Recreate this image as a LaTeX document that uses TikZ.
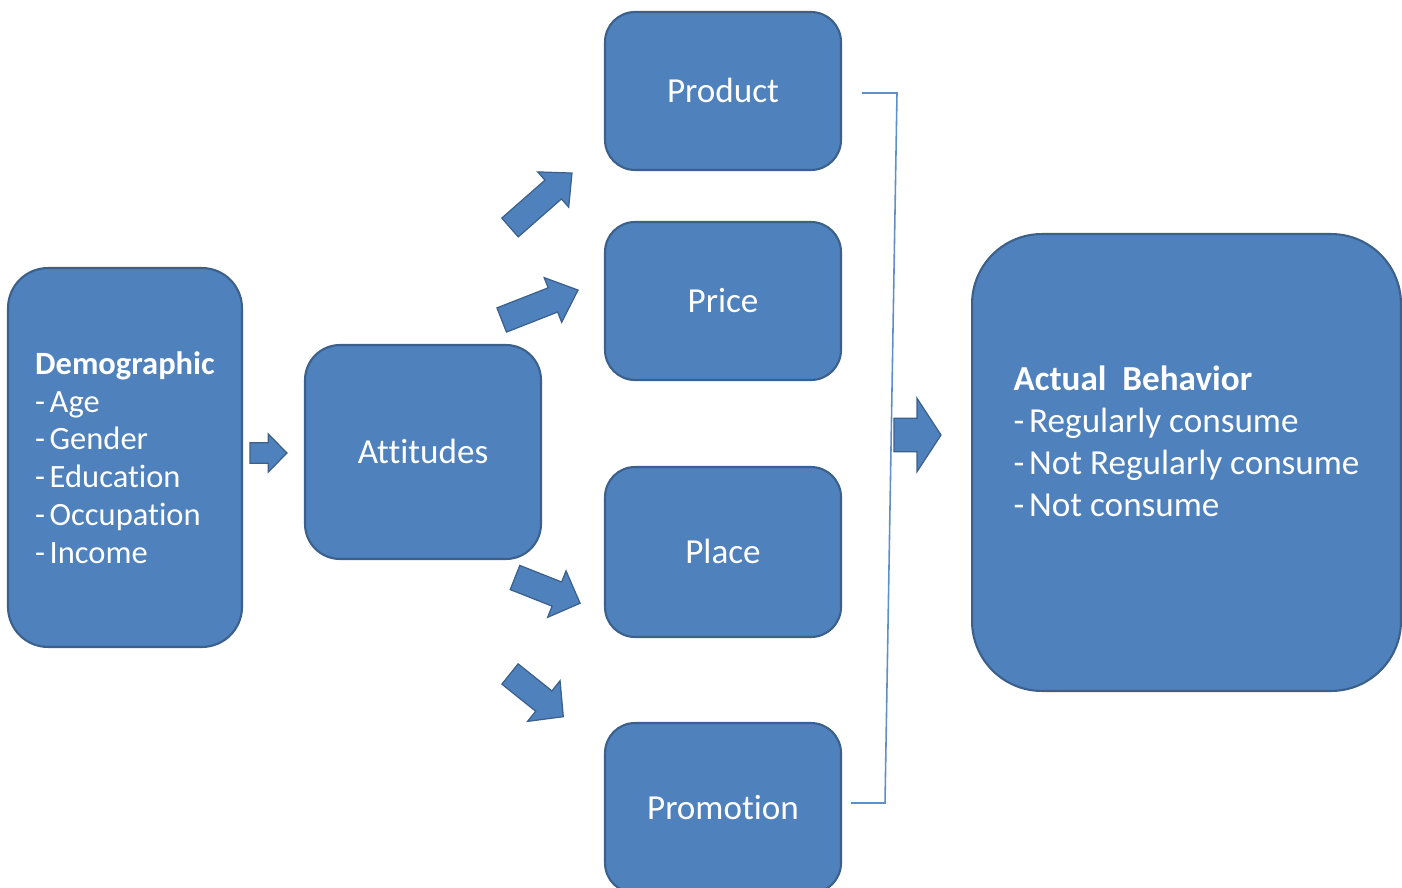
\documentclass[tikz,border=0pt]{standalone}
\usepackage{fontspec}
\setmainfont[Ligatures={NoCommon}]{Carlito}
\definecolor{boxfill}{RGB}{79,129,189}
\definecolor{boxline}{RGB}{60,96,140}
\definecolor{linkline}{RGB}{95,143,200}
\newcommand{\dashitem}[1]{-\hspace{0.14em}#1}
\begin{document}
\begin{tikzpicture}[x=0.02cm,y=-0.02cm,
  box/.style={rectangle, draw=boxline, fill=boxfill, line width=1.2pt,
    text=white, inner sep=0pt, outer sep=0pt},
  onelabel/.style={font=\fontsize{20}{24}\selectfont, text height=12.9pt, text depth=0pt},
  arrowshape/.style={draw=boxline, fill=boxfill, line width=0.7pt, line join=miter},
  bracket/.style={draw=linkline, line width=0.9pt},
  pics/blockarrow/.style n args={4}{code={
    % #1 total length, #2 shaft half width, #3 head half width, #4 head length
    \path[arrowshape] (0,-#2) -- ({#1-#4},-#2) -- ({#1-#4},-#3) -- (#1,0)
      -- ({#1-#4},#3) -- ({#1-#4},#2) -- (0,#2) -- cycle;
  }}]
\useasboundingbox (0,0) rectangle (1402,888);
\clip (0,0) rectangle (1402,888);

% left column
\node[box, rounded corners=0.8cm, minimum width=4.68cm, minimum height=7.58cm,
  align=left, font=\fontsize{18.5}{21.5}\selectfont] (demo) at (125,457.5)
  {{\bfseries Demographic}\\\dashitem{Age}\\\dashitem{Gender}\\\dashitem{Education}\\\dashitem{Occupation}\\\dashitem{Income}};

\node[box, onelabel, rounded corners=0.7cm, minimum width=4.72cm, minimum height=4.28cm]
  (att) at (423,452) {Attitudes};

% marketing mix
\node[box, onelabel, rounded corners=0.6cm, minimum width=4.72cm, minimum height=3.16cm]
  (product) at (723,91) {Product};
\node[box, onelabel, rounded corners=0.6cm, minimum width=4.72cm, minimum height=3.16cm]
  (price) at (723,301) {Price};
\node[box, onelabel, rounded corners=0.6cm, minimum width=4.72cm, minimum height=3.4cm]
  (place) at (723,552) {Place};
\node[box, onelabel, rounded corners=0.6cm, minimum width=4.72cm, minimum height=3.4cm]
  (promo) at (723,808) {Promotion};

% outcome
\node[box, rounded corners=1.4cm, minimum width=8.58cm, minimum height=9.14cm,
  align=left, font=\fontsize{20}{23.9}\selectfont] (actual) at (1186.5,462.5)
  {{\bfseries Actual\ \ Behavior}\\\dashitem{Regularly consume}\\\dashitem{Not Regularly consume}\\\dashitem{Not consume}\\\mbox{}};

% block arrows
\pic at (250,453) {blockarrow={37}{10.3}{19}{18.7}};
\pic[rotate=41.3] at (510,227.5) {blockarrow={82.5}{12.5}{23.5}{25}};
\pic[rotate=21.4] at (501.7,320) {blockarrow={82}{13}{24}{27}};
\pic[rotate=-21.6] at (515,577.5) {blockarrow={70}{13}{25}{25}};
\pic[rotate=-38.7] at (510,674) {blockarrow={68.3}{13}{26}{25}};
\pic at (894,435) {blockarrow={47}{16.7}{36.7}{24}};

% bracket joining the four boxes
\coordinate (bt) at (897,93);
\coordinate (bb) at (885,803);
\draw[bracket] ([xshift=0.42cm,yshift=-0.04cm]product.east) -- (bt) -- (bb)
  -- ([xshift=0.2cm,yshift=0.1cm]promo.east);
\end{tikzpicture}
\end{document}
